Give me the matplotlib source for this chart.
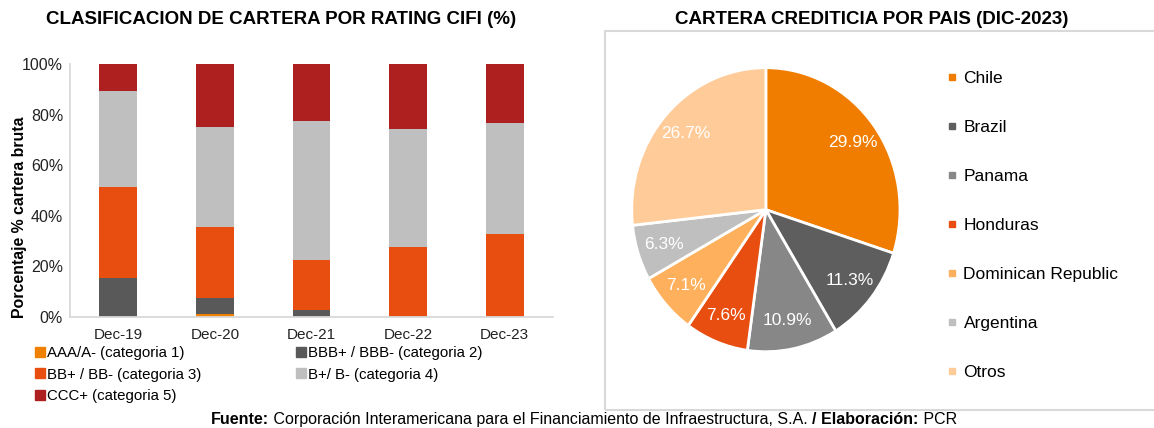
import numpy as np
import matplotlib
matplotlib.use('Agg')
import matplotlib.pyplot as plt
from matplotlib.lines import Line2D
from matplotlib.patches import Rectangle

plt.rcParams['font.family'] = ['Liberation Sans', 'DejaVu Sans']

# datos - clasificacion por rating (%)
periodos = ['Dec-19', 'Dec-20', 'Dec-21', 'Dec-22', 'Dec-23']
cat1 = [0.0, 1.3, 0.0, 0.0, 0.0]
cat2 = [15.5, 6.4, 2.8, 0.0, 0.0]
cat3 = [35.8, 27.8, 19.8, 27.7, 33.0]
cat4 = [38.0, 39.5, 54.9, 46.5, 43.5]
cat5 = [10.7, 25.0, 22.5, 25.8, 23.5]
categorias = ['AAA/A- (categoria 1)', 'BBB+ / BBB- (categoria 2)', 'BB+ / BB- (categoria 3)',
              'B+/ B- (categoria 4)', 'CCC+ (categoria 5)']
colores_cat = ['#F08000', '#595959', '#E84E10', '#BFBFBF', '#AE1F1F']

# datos - cartera por pais (%)
paises = ['Chile', 'Brazil', 'Panama', 'Honduras', 'Dominican Republic', 'Argentina', 'Otros']
participacion = [29.9, 11.3, 10.9, 7.6, 7.1, 6.3, 26.7]
colores_pais = ['#F07C00', '#5E5E5E', '#878787', '#E84E10', '#FFB05C', '#BFBFBF', '#FFCC99']

W, H = 1154, 428
fig = plt.figure(figsize=(W / 100, H / 100), dpi=100)


def px(x0, y0, x1, y1):
    return [x0 / W, 1 - y1 / H, (x1 - x0) / W, (y1 - y0) / H]


# ---- barras apiladas ----
ax = fig.add_axes(px(70, 64, 553, 317))
x = np.arange(len(periodos))
base = np.zeros(len(periodos))
for serie, color in zip([cat1, cat2, cat3, cat4, cat5], colores_cat):
    ax.bar(x, serie, bottom=base, width=0.39, color=color)
    base += np.array(serie)
ax.set_xlim(-0.5, len(periodos) - 0.5)
ax.set_ylim(0, 100)
ax.set_yticks(range(0, 101, 20))
ax.set_yticklabels([f'{v}%' for v in range(0, 101, 20)], fontsize=11.5, color='#222222')
ax.set_xticks(x)
ax.set_xticklabels(periodos, fontsize=11, color='#222222')
ax.tick_params(length=0, axis='x', pad=8)
ax.tick_params(length=0, axis='y', pad=5)
for s in ['top', 'right']:
    ax.spines[s].set_visible(False)
for s in ['left', 'bottom']:
    ax.spines[s].set_color('#D9D9D9')
    ax.spines[s].set_linewidth(1.3)
ax.set_ylabel('Porcentaje % cartera bruta', fontsize=11.4, fontweight='bold')
ax.yaxis.set_label_coords(-0.088, 0.393)
fig.text(281 / W, 1 - 20 / H, 'CLASIFICACION DE CARTERA POR RATING CIFI (%)',
         ha='center', va='center', fontsize=13.5, fontweight='bold')

orden = [0, 2, 4, 1, 3]
handles = [Line2D([], [], marker='s', linestyle='none', markersize=7.5,
                  color=colores_cat[i]) for i in orden]
fig.legend(handles, [categorias[i] for i in orden], ncol=2, frameon=False,
           loc='upper left', bbox_to_anchor=(35 / W, 1 - 346 / H), fontsize=10.8,
           handlelength=0.7, handletextpad=0.1, labelspacing=0.5, columnspacing=6.3,
           borderaxespad=0, borderpad=0)

# ---- pie ----
fig.add_artist(Rectangle((605 / W, 1 - 410 / H), 560 / W, 379 / H, transform=fig.transFigure,
                         facecolor='none', edgecolor='#D9D9D9', linewidth=1.5))
fig.text(871.5 / W, 1 - 20 / H, 'CARTERA CREDITICIA POR PAIS (DIC-2023)',
         ha='center', va='center', fontsize=13.5, fontweight='bold')
axp = fig.add_axes(px(631.7, 67.7, 900, 351.7))
valores = iter(participacion)
axp.pie(participacion, colors=colores_pais, startangle=90, counterclock=False,
        autopct=lambda p: f'{next(valores):.1f}%', pctdistance=0.8, radius=1,
        wedgeprops=dict(edgecolor='white', linewidth=2),
        textprops=dict(color='white', fontsize=12.5))
axp.set_aspect('auto')
axp.set_xlim(-1, 1)
axp.set_ylim(-1, 1)

handles_p = [Line2D([], [], marker='s', linestyle='none', markersize=4.5, color=c)
             for c in colores_pais]
fig.legend(handles_p, paises, loc='upper left', bbox_to_anchor=(947 / W, 1 - 71 / H),
           frameon=False, fontsize=12.5, handlelength=0.6, handletextpad=0.35,
           labelspacing=1.95, borderaxespad=0, borderpad=0)

# ---- fuente ----
partes = [('Fuente:', 'bold'),
          (' Corporación Interamericana para el Financiamiento de Infraestructura, S.A. ', 'normal'),
          ('/ Elaboración:', 'bold'), (' PCR', 'normal')]
prev = fig.text(211 / W, 1 - 424 / H, partes[0][0], fontsize=11.5, fontweight='bold',
                va='baseline', ha='left')
for texto, peso in partes[1:]:
    prev = fig.add_artist(plt.Annotation(texto, xy=(1, 0), xycoords=prev, va='bottom', ha='left',
                                         fontsize=11.5, fontweight=peso))

fig.savefig('out.png', dpi=100)
